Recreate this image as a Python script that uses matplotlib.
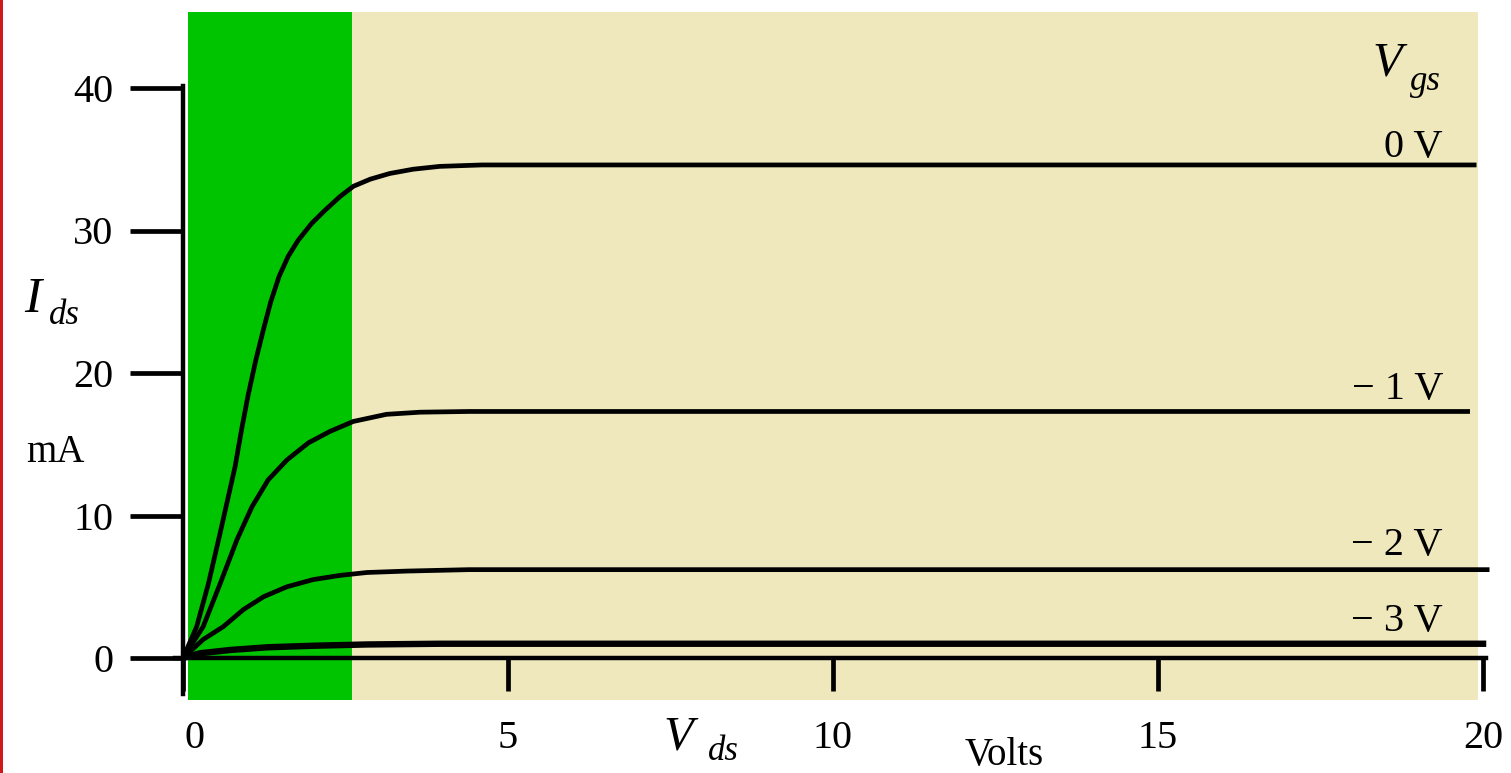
import numpy as np
import matplotlib
matplotlib.use('Agg')
import matplotlib.pyplot as plt
from matplotlib.patches import Rectangle
from matplotlib.transforms import ScaledTranslation

# Curvas (Vds em volts, Ids em mA)
vds_0v = [0, 0.21, 0.39, 0.57, 0.80, 0.90, 1.00, 1.12, 1.24, 1.35, 1.48, 1.62, 1.77, 1.98, 2.18, 2.42,
          2.62, 2.88, 3.18, 3.54, 3.95, 4.6, 19.9]
ids_0v = [0, 2.2, 5.2, 8.75, 13.4, 16.0, 18.4, 20.9, 23.1, 25.0, 26.8, 28.2, 29.3, 30.5, 31.4, 32.4,
          33.1, 33.6, 34.0, 34.3, 34.5, 34.6, 34.6]

vds_1v = [0, 0.31, 0.57, 0.83, 1.06, 1.31, 1.60, 1.93, 2.26, 2.62, 3.13, 3.65, 4.4, 19.8]
ids_1v = [0, 2.2, 5.2, 8.3, 10.6, 12.5, 13.9, 15.1, 15.9, 16.6, 17.1, 17.25, 17.3, 17.3]

vds_2v = [0, 0.31, 0.62, 0.93, 1.24, 1.60, 2.00, 2.42, 2.83, 3.44, 4.4, 20.1]
ids_2v = [0, 1.3, 2.2, 3.4, 4.3, 5.0, 5.5, 5.8, 6.0, 6.1, 6.2, 6.2]

vds_3v = [0, 0.26, 0.72, 1.29, 2.00, 2.83, 3.95, 20.05]
ids_3v = [0, 0.33, 0.56, 0.75, 0.86, 0.95, 1.0, 1.0]

curvas = [(vds_0v, ids_0v, '0 V', 3.4), (vds_1v, ids_1v, '\u2212 1 V', 3.4),
          (vds_2v, ids_2v, '\u2212 2 V', 3.4), (vds_3v, ids_3v, '\u2212 3 V', 4.6)]

x_ticks = [0, 5, 10, 15, 20]
y_ticks = [0, 10, 20, 30, 40]

plt.rcParams['font.family'] = ['Liberation Serif', 'DejaVu Serif']

W, H = 1511, 773
x0_px, y0_px = 183, 658      # pixel da origem
px_x, px_y = 65.0, 14.25     # pixels por volt / por mA

def px(x, y):
    # converte pixel da imagem para coordenada de dados
    return (x - x0_px) / px_x, (y0_px - y) / px_y

fig = plt.figure(figsize=(W / 100, H / 100), dpi=100)
ax = fig.add_axes([0, 0, 1, 1])
ax.set_xlim(px(0, 0)[0], px(W, 0)[0])
ax.set_ylim(px(0, H)[1], px(0, 0)[1])

# fundos: regiao ohmica (verde) e saturacao (bege)
ax.fill_between([0.08, 2.6], -2.95, 45.3, color='#00c400', lw=0, zorder=0)
ax.fill_between([2.6, 19.92], -2.95, 45.3, color='#eee8bc', lw=0, zorder=0)

for vds, ids, lab, lw in curvas:
    ax.plot(vds, ids, color='black', lw=lw, solid_capstyle='butt', solid_joinstyle='round', zorder=3)

# eixos
for s in ['top', 'right']:
    ax.spines[s].set_visible(False)
ax.spines['left'].set_position(('data', 0))
ax.spines['bottom'].set_position(('data', 0))
ax.spines['left'].set_bounds(-2.5, 40.15)
ax.spines['bottom'].set_bounds(-0.12, 20.05)
for s in ['left', 'bottom']:
    ax.spines[s].set_linewidth(3.2)
    ax.spines[s].set_zorder(4)

ax.set_xticks(x_ticks)
ax.set_xticklabels([str(v) for v in x_ticks])
ax.set_yticks(y_ticks)
ax.set_yticklabels([str(v) for v in y_ticks])
ax.tick_params(axis='y', direction='out', length=38, width=3.4, pad=12, labelsize=29)
ax.tick_params(axis='x', direction='out', length=24, width=3.4, pad=21, labelsize=29)

# "0" do eixo x fica um pouco deslocado para a direita na figura original
lbl0 = ax.get_xticklabels()[0]
lbl0.set_transform(lbl0.get_transform() + ScaledTranslation(0.12, 0, fig.dpi_scale_trans))

# rotulos
def txt(x, y, s, size, style='normal', ha='center'):
    xd, yd = px(x, y)
    ax.text(xd, yd, s, fontsize=size, style=style, ha=ha, va='center')

txt(33, 300, 'I', 37, 'italic')
txt(64, 316, 'ds', 25, 'italic')
txt(55, 452, 'mA', 28)

txt(1387, 64, 'V', 35, 'italic')
txt(1425, 82, 'gs', 25, 'italic')

txt(678, 738, 'V', 35, 'italic')
txt(723, 752, 'ds', 25, 'italic')
txt(1004, 756, 'Volts', 28)

label_y = [148, 390, 546, 622]
for (vds, ids, lab, lw), ly in zip(curvas, label_y):
    txt(1443, ly, lab, 29, ha='right')

# borda vermelha a esquerda
fig.add_artist(Rectangle((0, 0), 3 / W, 1, transform=fig.transFigure, color='#d01818', lw=0))

fig.savefig('out.png', dpi=100)
